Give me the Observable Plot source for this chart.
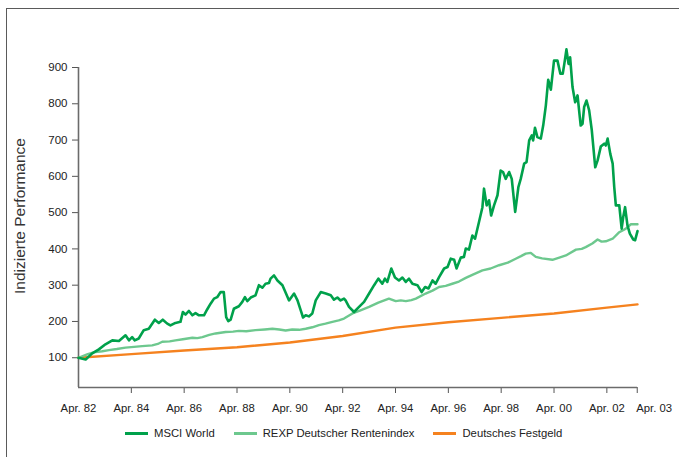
<!DOCTYPE html>
<html>
<head>
<meta charset="utf-8">
<script src="https://cdn.jsdelivr.net/npm/d3@7"></script>
<script src="https://cdn.jsdelivr.net/npm/@observablehq/plot@0.6"></script>
<style>
  html, body { margin: 0; padding: 0; background: #fff; overflow: hidden; }
  body { width: 679px; height: 457px; position: relative; font-family: "Liberation Sans", Arial, Helvetica, sans-serif; }
  #frame { position: absolute; left: 6px; top: 8px; width: 720px; height: 500px; border: 1.5px solid #5a5a5a; box-sizing: border-box; }
  #chart { position: absolute; left: 0; top: 0; }
  #ylabel { position: absolute; left: 20px; top: 216px; transform: translate(-50%, -50%) rotate(-90deg); white-space: nowrap; font-size: 15.5px; color: #333; }
  #legend { position: absolute; left: 125px; top: 427px; display: flex; align-items: center; font-size: 11.3px; color: #222; }
  .item { display: flex; align-items: center; margin-right: 19px; }
  .sw { width: 23px; height: 3px; margin-right: 6px; }
</style>
</head>
<body>
<div id="frame"></div>
<div id="chart"></div>
<div id="ylabel">Indizierte Performance</div>
<div id="legend"></div>
<script>
// Series names and colours
const seriesNames = ["MSCI World", "REXP Deutscher Rentenindex", "Deutsches Festgeld"];
const seriesColors = ["#00a14b", "#6dc88e", "#f5821f"];

// MSCI World (time in decimal years, indexed value)
const msciYears = [1982.25,1982.52,1982.77,1983.02,1983.27,1983.53,1983.78,1984.03,1984.16,1984.28,1984.38,1984.53,1984.72,1984.91,1985.14,1985.29,1985.44,1985.61,1985.73,1985.92,1986.11,1986.2,1986.3,1986.43,1986.56,1986.68,1986.81,1987.0,1987.12,1987.25,1987.38,1987.5,1987.63,1987.75,1987.84,1987.92,1988.01,1988.13,1988.32,1988.45,1988.55,1988.64,1988.77,1988.95,1989.08,1989.21,1989.33,1989.46,1989.52,1989.65,1989.78,1989.97,1990.22,1990.41,1990.54,1990.66,1990.75,1990.85,1990.97,1991.1,1991.23,1991.42,1991.61,1991.8,1991.92,1992.05,1992.17,1992.3,1992.36,1992.49,1992.68,1992.87,1993.06,1993.25,1993.44,1993.6,1993.75,1993.85,1993.94,1994.09,1994.23,1994.38,1994.51,1994.64,1994.76,1994.89,1995.08,1995.24,1995.37,1995.5,1995.65,1995.77,1995.9,1996.09,1996.22,1996.34,1996.47,1996.56,1996.72,1996.84,1996.91,1997.03,1997.16,1997.26,1997.41,1997.54,1997.6,1997.7,1997.79,1997.87,1997.98,1998.11,1998.23,1998.32,1998.42,1998.55,1998.65,1998.78,1998.9,1998.99,1999.12,1999.21,1999.31,1999.41,1999.46,1999.53,1999.62,1999.75,1999.84,1999.94,2000.03,2000.13,2000.25,2000.38,2000.49,2000.58,2000.64,2000.72,2000.8,2000.86,2000.95,2001.05,2001.14,2001.26,2001.33,2001.39,2001.48,2001.58,2001.68,2001.81,2001.9,2002.02,2002.15,2002.21,2002.28,2002.38,2002.47,2002.53,2002.59,2002.72,2002.81,2002.87,2002.94,2003.03,2003.12,2003.25,2003.32,2003.41];
const msciValues = [100,95,112,123,137,148,146,162,148,157,148,153,176,180,205,196,205,194,189,196,199,226,219,229,217,223,217,217,233,249,263,267,281,281,212,201,205,235,242,254,267,256,266,272,300,293,304,306,318,327,313,300,258,277,258,231,211,217,214,222,258,281,277,272,260,266,258,263,258,240,226,240,254,277,300,318,304,318,309,346,321,313,321,309,318,304,300,281,295,291,313,304,322,346,350,373,370,346,376,378,401,398,437,428,474,515,566,520,534,492,520,548,616,612,593,612,593,502,570,593,635,639,699,713,699,734,708,704,740,795,866,839,919,919,883,883,910,950,910,928,846,804,823,740,745,791,809,782,727,625,644,682,690,685,704,662,635,570,520,520,456,488,515,465,442,426,424,449];

// REXP Deutscher Rentenindex
const rexpYears = [1982.25,1982.6,1982.89,1983.15,1983.4,1983.7,1984.03,1984.35,1984.66,1985.04,1985.25,1985.42,1985.7,1985.92,1986.2,1986.56,1986.75,1986.94,1987.2,1987.44,1987.82,1988.1,1988.32,1988.6,1988.95,1989.3,1989.59,1989.85,1990.09,1990.34,1990.6,1990.85,1991.1,1991.35,1991.6,1991.86,1992.1,1992.3,1992.62,1992.9,1993.25,1993.6,1994.0,1994.26,1994.45,1994.64,1994.85,1995.02,1995.39,1995.65,1995.9,1996.15,1996.4,1996.65,1996.91,1997.2,1997.54,1997.85,1998.17,1998.5,1998.8,1999.0,1999.18,1999.37,1999.56,1999.8,2000.19,2000.45,2000.7,2001.08,2001.3,2001.45,2001.7,2001.9,2002.05,2002.21,2002.47,2002.72,2002.97,2003.16,2003.41];
const rexpValues = [100,110,116,118,121,124,128,130,132,134,138,144,145,148,151,155,154,157,163,167,171,172,174,173,176,178,180,178,175,178,177,180,184,190,194,199,203,208,222,230,240,252,263,256,258,256,259,263,277,285,295,298,304,310,320,330,341,346,355,362,373,380,387,389,378,374,370,376,382,398,400,405,415,426,420,421,428,446,456,468,468];

// Deutsches Festgeld
const festYears = [1982.25,1984.25,1986.25,1988.25,1990.25,1992.25,1994.25,1996.25,1998.25,2000.25,2002.25,2003.41];
const festValues = [100,110,120,129,142,160,183,198,210,222,238,247];

// Axis ticks
const xTickYears = [1982.25,1984.25,1986.25,1988.25,1990.25,1992.25,1994.25,1996.25,1998.25,2000.25,2002.25,2003.4];
const xTickLabels = ["Apr. 82","Apr. 84","Apr. 86","Apr. 88","Apr. 90","Apr. 92","Apr. 94","Apr. 96","Apr. 98","Apr. 00","Apr. 02","Apr. 03"];
const yTicks = [100,200,300,400,500,600,700,800,900];
const xDomain = [1982.25, 2003.41];
const yDomain = [18, 900];

const toRows = (ys, vs, s) => ys.map((t, i) => ({t, v: vs[i], s}));
const rows = [
  ...toRows(festYears, festValues, seriesNames[2]),
  ...toRows(rexpYears, rexpValues, seriesNames[1]),
  ...toRows(msciYears, msciValues, seriesNames[0])
];

const lastIdx = xTickYears.length - 1;
const chart = Plot.plot({
  width: 679,
  height: 420,
  marginLeft: 78,
  marginRight: 42,
  marginTop: 67,
  marginBottom: 33,
  style: { fontFamily: "'Liberation Sans', Arial, Helvetica, sans-serif", fontSize: "11.3px", color: "#222", background: "transparent" },
  x: { domain: xDomain },
  y: { domain: yDomain },
  color: { domain: seriesNames, range: seriesColors },
  marks: [
    Plot.axisY({ ticks: yTicks, tickSize: 6, tickPadding: 5, label: null, fontSize: "11.5px", stroke: "#555" }),
    // tick marks (none at the origin, which coincides with the y axis)
    Plot.axisX({ ticks: xTickYears.slice(1), tickFormat: () => "", tickSize: 6, label: null, stroke: "#555" }),
    // labels, centred except the last which starts at its tick
    Plot.axisX({ ticks: xTickYears.slice(0, lastIdx), tickFormat: (d, i) => xTickLabels[i], tickSize: 0, tickPadding: 16, label: null }),
    Plot.axisX({ ticks: [xTickYears[lastIdx]], tickFormat: () => xTickLabels[lastIdx], tickSize: 0, tickPadding: 16, textAnchor: "start", dx: -1, label: null }),
    Plot.ruleX([xDomain[0]], { y1: yDomain[0], y2: yDomain[1], stroke: "#6b6b6b", strokeWidth: 1.6 }),
    Plot.ruleY([yDomain[0]], { x1: xDomain[0], x2: xDomain[1], stroke: "#6b6b6b", strokeWidth: 1.6 }),
    Plot.line(rows, { x: "t", y: "v", z: "s", stroke: "s", strokeWidth: d => d.s === seriesNames[0] ? 2.6 : 2.4, strokeLinejoin: "round", curve: "linear" })
  ]
});
document.getElementById("chart").appendChild(chart);

const legend = document.getElementById("legend");
seriesNames.forEach((n, i) => {
  const it = document.createElement("div");
  it.className = "item";
  const sw = document.createElement("span");
  sw.className = "sw";
  sw.style.background = seriesColors[i];
  const tx = document.createElement("span");
  tx.textContent = n;
  it.appendChild(sw); it.appendChild(tx);
  legend.appendChild(it);
});
</script>
</body>
</html>
